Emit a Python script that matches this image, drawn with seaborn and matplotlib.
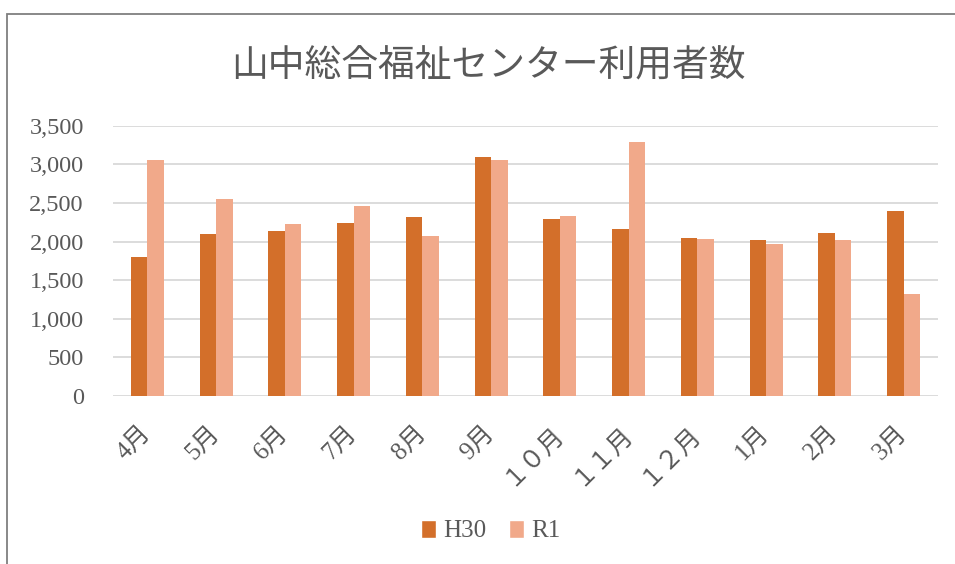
import numpy as np
import pandas as pd
import seaborn as sns
import matplotlib.pyplot as plt
from matplotlib.patches import Rectangle, Patch

months = ["4月", "5月", "6月", "7月", "8月", "9月", "１０月", "１１月", "１２月", "1月", "2月", "3月"]
h30 = [1800, 2093, 2132, 2236, 2318, 3095, 2292, 2167, 2050, 2024, 2115, 2395]
r1 = [3056, 2551, 2227, 2460, 2067, 3060, 2331, 3289, 2037, 1964, 2016, 1321]
series = ["H30", "R1"]
colors = {"H30": "#D36F2A", "R1": "#F1A98A"}
title = "山中総合福祉センター利用者数"

df = pd.DataFrame({
    "month": months * 2,
    "year": ["H30"] * len(months) + ["R1"] * len(months),
    "value": h30 + r1,
})

sns.set_style("white")
plt.rcParams["font.family"] = ["Liberation Serif", "Noto Sans CJK JP", "DejaVu Sans"]
text_gray = "#595959"

fig = plt.figure(figsize=(9.55, 5.64), dpi=100)
ax = fig.add_axes([113 / 955, 1 - 396 / 564, (938 - 113) / 955, (396 - 125.7) / 564])

sns.barplot(data=df, x="month", y="value", hue="year", order=months, hue_order=series,
            palette=colors, saturation=1, width=0.48, ax=ax, legend=False, edgecolor="none")

ax.set_ylim(0, 3500)
ax.set_xlim(-0.5, len(months) - 0.5)
ax.set_yticks(np.arange(0, 3501, 500))
ax.set_yticklabels([f"{v:,}" for v in range(0, 3501, 500)])
ax.yaxis.grid(True, color="#D9D9D9", linewidth=1.3)
ax.set_axisbelow(True)
for s in ax.spines.values():
    s.set_visible(False)
ax.set_xlabel("")
ax.set_ylabel("")
ax.tick_params(axis="y", length=0, pad=21, labelsize=17.5, labelcolor=text_gray)
ax.tick_params(axis="x", length=0, pad=24, labelsize=18, labelcolor=text_gray)
for lbl in ax.get_xticklabels():
    lbl.set_rotation(45)
    lbl.set_ha("right")
    lbl.set_va("center")
    lbl.set_rotation_mode("anchor")

fig.text(488 / 955, 1 - 66 / 564, title, ha="center", va="center", fontsize=26.5,
         color=text_gray, family=["Noto Sans CJK JP", "DejaVu Sans"])

handles = [Patch(facecolor=colors[s], label=s) for s in series]
leg = fig.legend(handles=handles, loc="center", bbox_to_anchor=(491 / 955, 1 - 531 / 564),
                 ncol=2, frameon=False, fontsize=18, handlelength=0.6, handleheight=0.75,
                 handletextpad=0.3, columnspacing=0.9)
for t in leg.get_texts():
    t.set_color(text_gray)

fig.patches.append(Rectangle((7 / 955, -0.1), 1.2, 1 - 14 / 564 + 0.1, transform=fig.transFigure,
                             fill=False, edgecolor="#7F7F7F", linewidth=1.3))

fig.savefig("out.png", dpi=100)
